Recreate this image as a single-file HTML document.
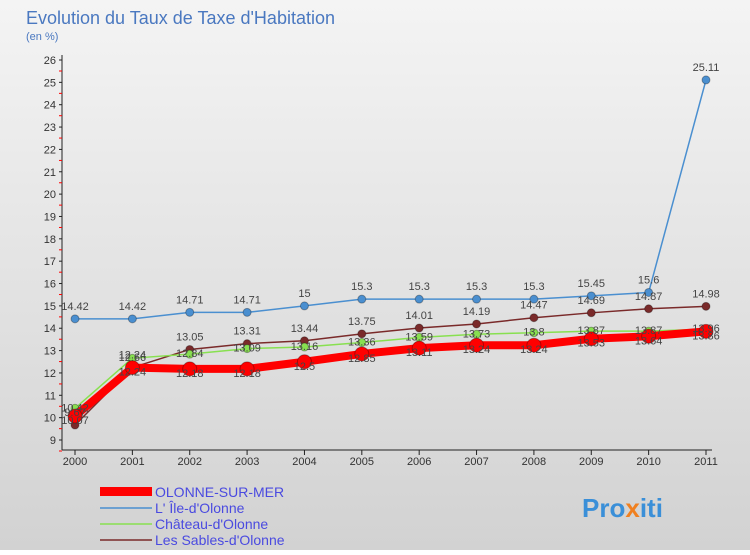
<!DOCTYPE html>
<html><head><meta charset="utf-8"><style>
body{margin:0;width:750px;height:550px;overflow:hidden;font-family:"Liberation Sans",sans-serif;}
</style></head><body>
<svg width="750" height="550" xmlns="http://www.w3.org/2000/svg">
<defs><linearGradient id="bg" x1="0" y1="0" x2="0" y2="1"><stop offset="0" stop-color="#f4f4f4"/><stop offset="1" stop-color="#d2d2d2"/></linearGradient></defs>
<rect x="0" y="0" width="750" height="550" fill="url(#bg)"/>
<text x="26" y="24" font-size="18" fill="#4a78c0">Evolution du Taux de Taxe d'Habitation</text>
<text x="26" y="40" font-size="11" fill="#4a78c0">(en %)</text>
<g id="axes"></g><g id="series"></g><g id="labels"></g>
<g id="legend" font-size="14" fill="#4a4ae0">
<rect x="100" y="487" width="52" height="9" fill="#ff0000"/>
<text x="155" y="497" fill="#4a4ae0">OLONNE-SUR-MER</text>
<line x1="100" y1="508" x2="152" y2="508" stroke="#4a8fd0" stroke-width="1.5"/>
<text x="155" y="513" fill="#4a4ae0">L' Île-d'Olonne</text>
<line x1="100" y1="524" x2="152" y2="524" stroke="#88e050" stroke-width="1.5"/>
<text x="155" y="529" fill="#4a4ae0">Château-d'Olonne</text>
<line x1="100" y1="540" x2="152" y2="540" stroke="#7a2a2a" stroke-width="1.5"/>
<text x="155" y="545" fill="#4a4ae0">Les Sables-d'Olonne</text>
</g>
<text x="582" y="517" font-size="26" font-weight="bold" fill="#3a8fd8">Pro<tspan fill="#f08020">x</tspan>iti</text>
</svg>
<script>
const years=[2000,2001,2002,2003,2004,2005,2006,2007,2008,2009,2010,2011];
const yTicks=[9,10,11,12,13,14,15,16,17,18,19,20,21,22,23,24,25,26];
const olonne=[10.07,12.24,12.18,12.18,12.5,12.85,13.11,13.24,13.24,13.53,13.64,13.86];
const ile=[14.42,14.42,14.71,14.71,15,15.3,15.3,15.3,15.3,15.45,15.6,25.11];
const chateau=[10.42,12.66,12.84,13.09,13.16,13.36,13.59,13.73,13.8,13.87,13.87,13.96];
const sables=[9.67,12.24,13.05,13.31,13.44,13.75,14.01,14.19,14.47,14.69,14.87,14.98];
const NS="http://www.w3.org/2000/svg";
const X=i=>75+i*(706-75)/11;
const Y=v=>440-(v-9)*(440-60)/17;
function mk(t,a,p){const e=document.createElementNS(NS,t);for(const k in a)e.setAttribute(k,a[k]);p.appendChild(e);return e;}
const ax=document.getElementById('axes');
let yl=mk('line',{x1:62,y1:55,x2:62,y2:450,stroke:'#222'},ax);


let xl=mk('line',{x1:62,y1:450,x2:712,y2:450,stroke:'#222'},ax);


yTicks.forEach(v=>{
 mk('line',{x1:59,y1:Y(v),x2:62,y2:Y(v),stroke:'#222'},ax);
 mk('line',{x1:59,y1:Y(v)+11,x2:62,y2:Y(v)+11,stroke:'#f00'},ax);
 const t=mk('text',{x:56,y:Y(v)+4,'font-size':11,'text-anchor':'end',fill:'#333'},ax);
 t.textContent=v;
 
 
});
years.forEach((y,i)=>{
 mk('line',{x1:X(i),y1:450,x2:X(i),y2:455,stroke:'#222'},ax);
 const t=mk('text',{x:X(i),y:465,'font-size':11,'text-anchor':'middle',fill:'#333'},ax);
 t.textContent=y;
 
 
});
const sg=document.getElementById('series'),lg=document.getElementById('labels');
function draw(vals,col,w,r,name,dy){
 const pl=mk('polyline',{points:vals.map((v,i)=>X(i)+','+Y(v)).join(' '),fill:'none',stroke:col,'stroke-width':w,'stroke-linejoin':'round'},sg);
 
 
 vals.forEach((v,i)=>{
  const c=mk('circle',{cx:X(i),cy:Y(v),r:r,fill:col,stroke:'rgba(0,0,0,0.3)'},sg);
  
  
  const t=mk('text',{x:X(i),y:Y(v)-dy,'font-size':11,'text-anchor':'middle',fill:'#444'},lg);
  t.textContent=v;
  
  
 });
}
draw(ile,'#4a8fd0',1.5,4,'ile',9);
draw(sables,'#7a2a2a',1.5,4,'sables',9);
draw(chateau,'#88e050',1.5,4,'chateau',-3);
draw(olonne,'#ff0000',8,7,'olonne',-8);
</script>
</body></html>
